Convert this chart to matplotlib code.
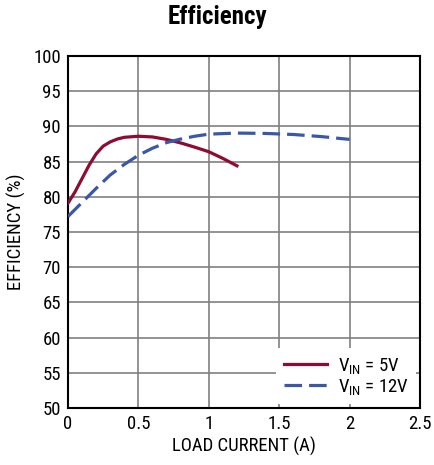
import matplotlib
matplotlib.use("Agg")
import matplotlib.pyplot as plt
from matplotlib import font_manager

# valores
x_5v = [0, 0.05, 0.1, 0.15, 0.2, 0.25, 0.3, 0.35, 0.4, 0.5, 0.6, 0.7, 0.8, 0.9, 1.0, 1.1, 1.2]
ef_5v = [79.1, 80.7, 82.6, 84.5, 86.1, 87.2, 87.8, 88.2, 88.45, 88.6, 88.5, 88.15, 87.65, 87.05, 86.4, 85.45, 84.4]

x_12v = [0, 0.1, 0.2, 0.3, 0.4, 0.5, 0.6, 0.7, 0.8, 0.9, 1.0, 1.2, 1.4, 1.6, 1.8, 2.0]
ef_12v = [77.2, 79.2, 81.2, 83.1, 84.6, 85.9, 86.9, 87.7, 88.2, 88.6, 88.9, 89.05, 89.0, 88.85, 88.55, 88.15]

xticks = [0, 0.5, 1, 1.5, 2, 2.5]
xlabels = ["0", "0.5", "1", "1.5", "2", "2.5"]
yticks = list(range(50, 101, 5))

nomes = {f.name for f in font_manager.fontManager.ttflist}
fontes = [f for f in ["Roboto Condensed", "Liberation Sans Narrow", "Liberation Sans"] if f in nomes]
plt.rcParams['font.family'] = fontes + ['DejaVu Sans']

fig = plt.figure(figsize=(4.34, 4.65), dpi=100)
ax = fig.add_axes([0.1567, 0.1226, 0.811, 0.757])

ax.plot(x_5v, ef_5v, color="#8e0b32", lw=2.3, label=r"$\mathregular{V_{IN}}$ = 5V", zorder=3)
ax.plot(x_12v, ef_12v, color="#3a58a6", lw=2.3, dashes=(5.5, 2.2),
        label=r"$\mathregular{V_{IN}}$ = 12V", zorder=3)

ax.set_xlim(0, 2.5)
ax.set_ylim(50, 100)
ax.set_xticks(xticks)
ax.set_xticklabels(xlabels)
ax.set_yticks(yticks)
ax.tick_params(length=0, labelsize=13.5, pad=5)
ax.grid(True, color="#808080", lw=1.2)
ax.set_axisbelow(True)
for s in ax.spines.values():
    s.set_color("black")
    s.set_linewidth(1.5)

ax.set_xlabel("LOAD CURRENT (A)", fontsize=13.5, labelpad=3)
ax.set_ylabel("EFFICIENCY (%)", fontsize=13.5, labelpad=5)
fig.suptitle("Efficiency", fontsize=18, fontweight="bold", y=0.99)

leg = ax.legend(loc="lower right", fontsize=13.5, frameon=True, fancybox=False,
                handlelength=2.3, borderaxespad=0.2, labelspacing=0.05, handletextpad=0.6)
leg.get_frame().set_edgecolor("none")
leg.get_frame().set_facecolor("white")
leg.get_frame().set_alpha(1)

fig.savefig("out.png", dpi=100)
